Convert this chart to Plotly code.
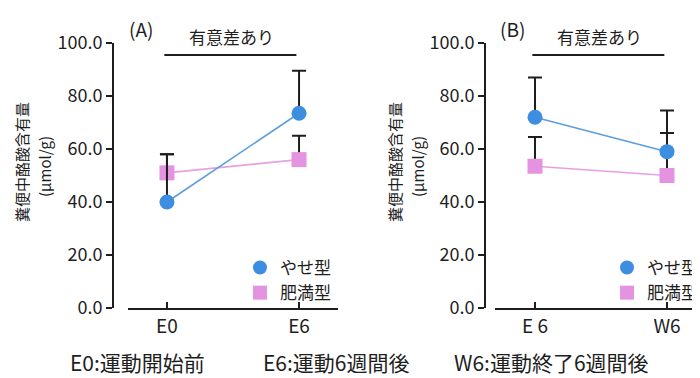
import plotly.graph_objects as go

# ---- data ----
cats_a = ["E0", "E6"]
cats_b = ["E 6", "W6"]
slim_a = [40.0, 73.5]
slim_a_err = [18.0, 16.0]
obese_a = [51.0, 56.0]
obese_a_err = [7.0, 9.0]
slim_b = [72.0, 59.0]
slim_b_err = [15.0, 15.5]
obese_b = [53.5, 50.0]
obese_b_err = [11.0, 16.0]
yticks = [0, 20, 40, 60, 80, 100]
ytick_labels = ["0.0", "20.0", "40.0", "60.0", "80.0", "100.0"]
series_names = ["やせ型", "肥満型"]
sig_text = "有意差あり"
y_title = "糞便中酪酸含有量"
y_unit = "(μmol/g)"
captions = ["E0:運動開始前", "E6:運動6週間後", "W6:運動終了6週間後"]

# page body has an 8px margin, so the figure is offset by 8px
OFF = 8
W, H = 700 - OFF, 378 - OFF
FONT = "Noto Sans CJK JP"
BLUE_LINE = "#5b9ee0"
BLUE = "#3d8ee0"
PINK_LINE = "#e7a0e4"
PINK = "#e493e0"
INK = "#1e1e1e"

fig = go.Figure()

def px(x):
    return (x - OFF) / W

def py(y):
    return 1 - (y - OFF) / H

def add_panel(xa, ya, cats, slim, slim_err, obese, obese_err, legend):
    fig.add_trace(go.Scatter(
        x=cats, y=obese, mode="lines+markers", xaxis=xa, yaxis=ya,
        line=dict(color=PINK_LINE, width=1.6),
        marker=dict(symbol="square", size=15, color=PINK),
        error_y=dict(type="data", array=obese_err, arrayminus=[0] * len(obese),
                     symmetric=False, color=INK, thickness=2, width=7),
        showlegend=False, cliponaxis=False))
    fig.add_trace(go.Scatter(
        x=cats, y=slim, mode="lines+markers", xaxis=xa, yaxis=ya,
        line=dict(color=BLUE_LINE, width=1.6),
        marker=dict(symbol="circle", size=15, color=BLUE),
        error_y=dict(type="data", array=slim_err, arrayminus=[0] * len(slim),
                     symmetric=False, color=INK, thickness=2, width=7),
        showlegend=False, cliponaxis=False))
    fig.add_trace(go.Scatter(
        x=[None], y=[None], mode="markers", xaxis=xa, yaxis=ya, name=series_names[0],
        marker=dict(symbol="circle", size=14, color=BLUE), legend=legend))
    fig.add_trace(go.Scatter(
        x=[None], y=[None], mode="markers", xaxis=xa, yaxis=ya, name=series_names[1],
        marker=dict(symbol="square", size=14, color=PINK), legend=legend))

add_panel("x", "y", cats_a, slim_a, slim_a_err, obese_a, obese_a_err, "legend")
add_panel("x2", "y2", cats_b, slim_b, slim_b_err, obese_b, obese_b_err, "legend2")

y_dom = [py(308), py(43)]

common_x = dict(showline=True, linecolor=INK, linewidth=2, ticks="inside",
                ticklen=6, tickwidth=2, tickcolor=INK, showgrid=False,
                zeroline=False, tickfont=dict(family=FONT, size=19, color=INK),
                type="category", automargin=False)
common_y = dict(showline=True, linecolor=INK, linewidth=2, ticks="outside",
                ticklen=6, tickwidth=2, tickcolor=INK, showgrid=False,
                zeroline=False, tickfont=dict(family=FONT, size=18, color=INK),
                range=[0, 100], tickvals=yticks, ticktext=ytick_labels, domain=y_dom,
                automargin=False)

legend_common = dict(xanchor="left", yanchor="top", xref="container", yref="container",
                     font=dict(family=FONT, size=17, color=INK),
                     bgcolor="rgba(0,0,0,0)", itemwidth=30, tracegroupgap=0)

fig.update_layout(
    width=W, height=H,
    margin=dict(l=0, r=0, t=0, b=0, autoexpand=False),
    paper_bgcolor="white", plot_bgcolor="white",
    font=dict(family=FONT, color=INK),
    xaxis=dict(domain=[px(128), px(338)], range=[-0.295, 1.295], anchor="y",
               **common_x),
    yaxis=dict(anchor="free", position=px(113), **common_y),
    xaxis2=dict(domain=[px(495), 1.0], range=[-0.303, 1.25], anchor="y2",
                **common_x),
    yaxis2=dict(anchor="free", position=px(485), **common_y),
    legend=dict(x=px(240), y=py(250), **legend_common),
    legend2=dict(x=px(607), y=py(250), **legend_common),
)

# significance bars
for xr, yr in [("x", "y"), ("x2", "y2")]:
    fig.add_shape(type="line", xref=xr, yref=yr, x0=-0.02, x1=0.98, y0=95.5, y1=95.5,
                  line=dict(color=INK, width=2))
for cx in [231, 599]:
    fig.add_annotation(xref="paper", yref="paper", x=px(cx), y=py(37), text=sig_text,
                       xanchor="center", yanchor="middle", showarrow=False,
                       font=dict(family=FONT, size=17, color=INK))

# panel labels
fig.add_annotation(xref="paper", yref="paper", x=px(141), y=py(28), text="(A)",
                   xanchor="center", yanchor="middle", showarrow=False,
                   font=dict(family=FONT, size=19, color=INK))
fig.add_annotation(xref="paper", yref="paper", x=px(512), y=py(28), text="(B)",
                   xanchor="center", yanchor="middle", showarrow=False,
                   font=dict(family=FONT, size=19, color=INK))

# y titles
for xa, xb in [(21, 44), (394, 417)]:
    fig.add_annotation(xref="paper", yref="paper", x=px(xa), y=py(162), text=y_title,
                       textangle=-90, xanchor="center", yanchor="middle", showarrow=False,
                       font=dict(family=FONT, size=15, color=INK))
    fig.add_annotation(xref="paper", yref="paper", x=px(xb), y=py(167), text=y_unit,
                       textangle=-90, xanchor="center", yanchor="middle", showarrow=False,
                       font=dict(family=FONT, size=15, color=INK))

# captions
for txt, cx in zip(captions, [137, 336, 551]):
    fig.add_annotation(xref="paper", yref="paper", x=px(cx), y=py(362), text=txt,
                       xanchor="center", yanchor="middle", showarrow=False,
                       font=dict(family=FONT, size=21, color=INK), borderpad=0)

fig.write_html("out.html")
